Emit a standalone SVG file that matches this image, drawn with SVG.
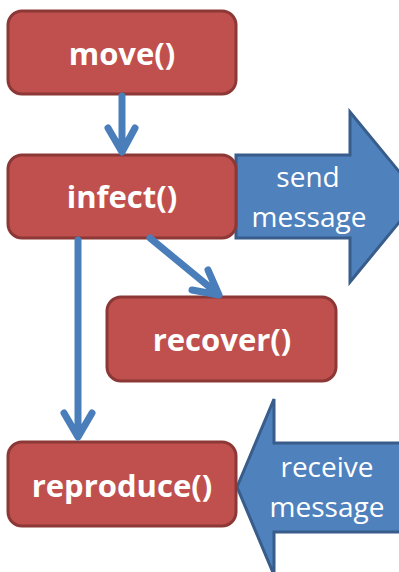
<svg xmlns="http://www.w3.org/2000/svg" width="399" height="572" viewBox="0 0 399 572">
  <style>
    .box { fill: #C0504D; stroke: #8C3836; stroke-width: 3; }
    .label { font-family: "Open Sans", "Liberation Sans", sans-serif; font-weight: bold; font-size: 31px; fill: #FFFFFF; text-anchor: middle; }
    .msg { fill: #4F81BD; stroke: #385D8A; stroke-width: 3; stroke-linejoin: miter; }
    .msgtext { font-family: "Open Sans", "Liberation Sans", sans-serif; font-size: 28px; fill: #FFFFFF; text-anchor: middle; }
    .flow { fill: none; stroke: #4A7EBB; stroke-width: 7; stroke-linecap: round; stroke-linejoin: round; }
  </style>
  <rect width="399" height="572" fill="#FFFFFF"/>

  <!-- message arrows -->
  <g id="send-message">
    <polygon class="msg" points="236,155 350,155 350,112 420,197 350,282 350,238 236,238"/>
    <text class="msgtext" x="308" y="187">send</text>
    <text class="msgtext" x="309" y="227">message</text>
  </g>
  <g id="receive-message">
    <polygon class="msg" points="237,487 274,399 274,443 410,443 410,532 274,532 274,575"/>
    <text class="msgtext" x="327" y="477">receive</text>
    <text class="msgtext" x="327" y="517">message</text>
  </g>

  <!-- function nodes -->
  <g id="move">
    <rect class="box" x="8" y="11" width="228" height="83" rx="14"/>
    <text class="label" x="122" y="65">move()</text>
  </g>
  <g id="infect">
    <rect class="box" x="8" y="155" width="228" height="83" rx="14"/>
    <text class="label" x="122" y="208">infect()</text>
  </g>
  <g id="recover">
    <rect class="box" x="107" y="297" width="229" height="84" rx="14"/>
    <text class="label" x="222" y="351">recover()</text>
  </g>
  <g id="reproduce">
    <rect class="box" x="8" y="442" width="228" height="84" rx="14"/>
    <text class="label" x="122" y="497">reproduce()</text>
  </g>

  <!-- connectors -->
  <g id="connectors">
    <path class="flow" d="M122,96 L122,151 M108,128 L122,152 L135,128"/>
    <path class="flow" d="M78,240 L78,436 M64,413 L78,437 L92,413"/>
    <path class="flow" d="M150,238 L218,294 M208,270 L219,295 L192,290"/>
  </g>
</svg>
